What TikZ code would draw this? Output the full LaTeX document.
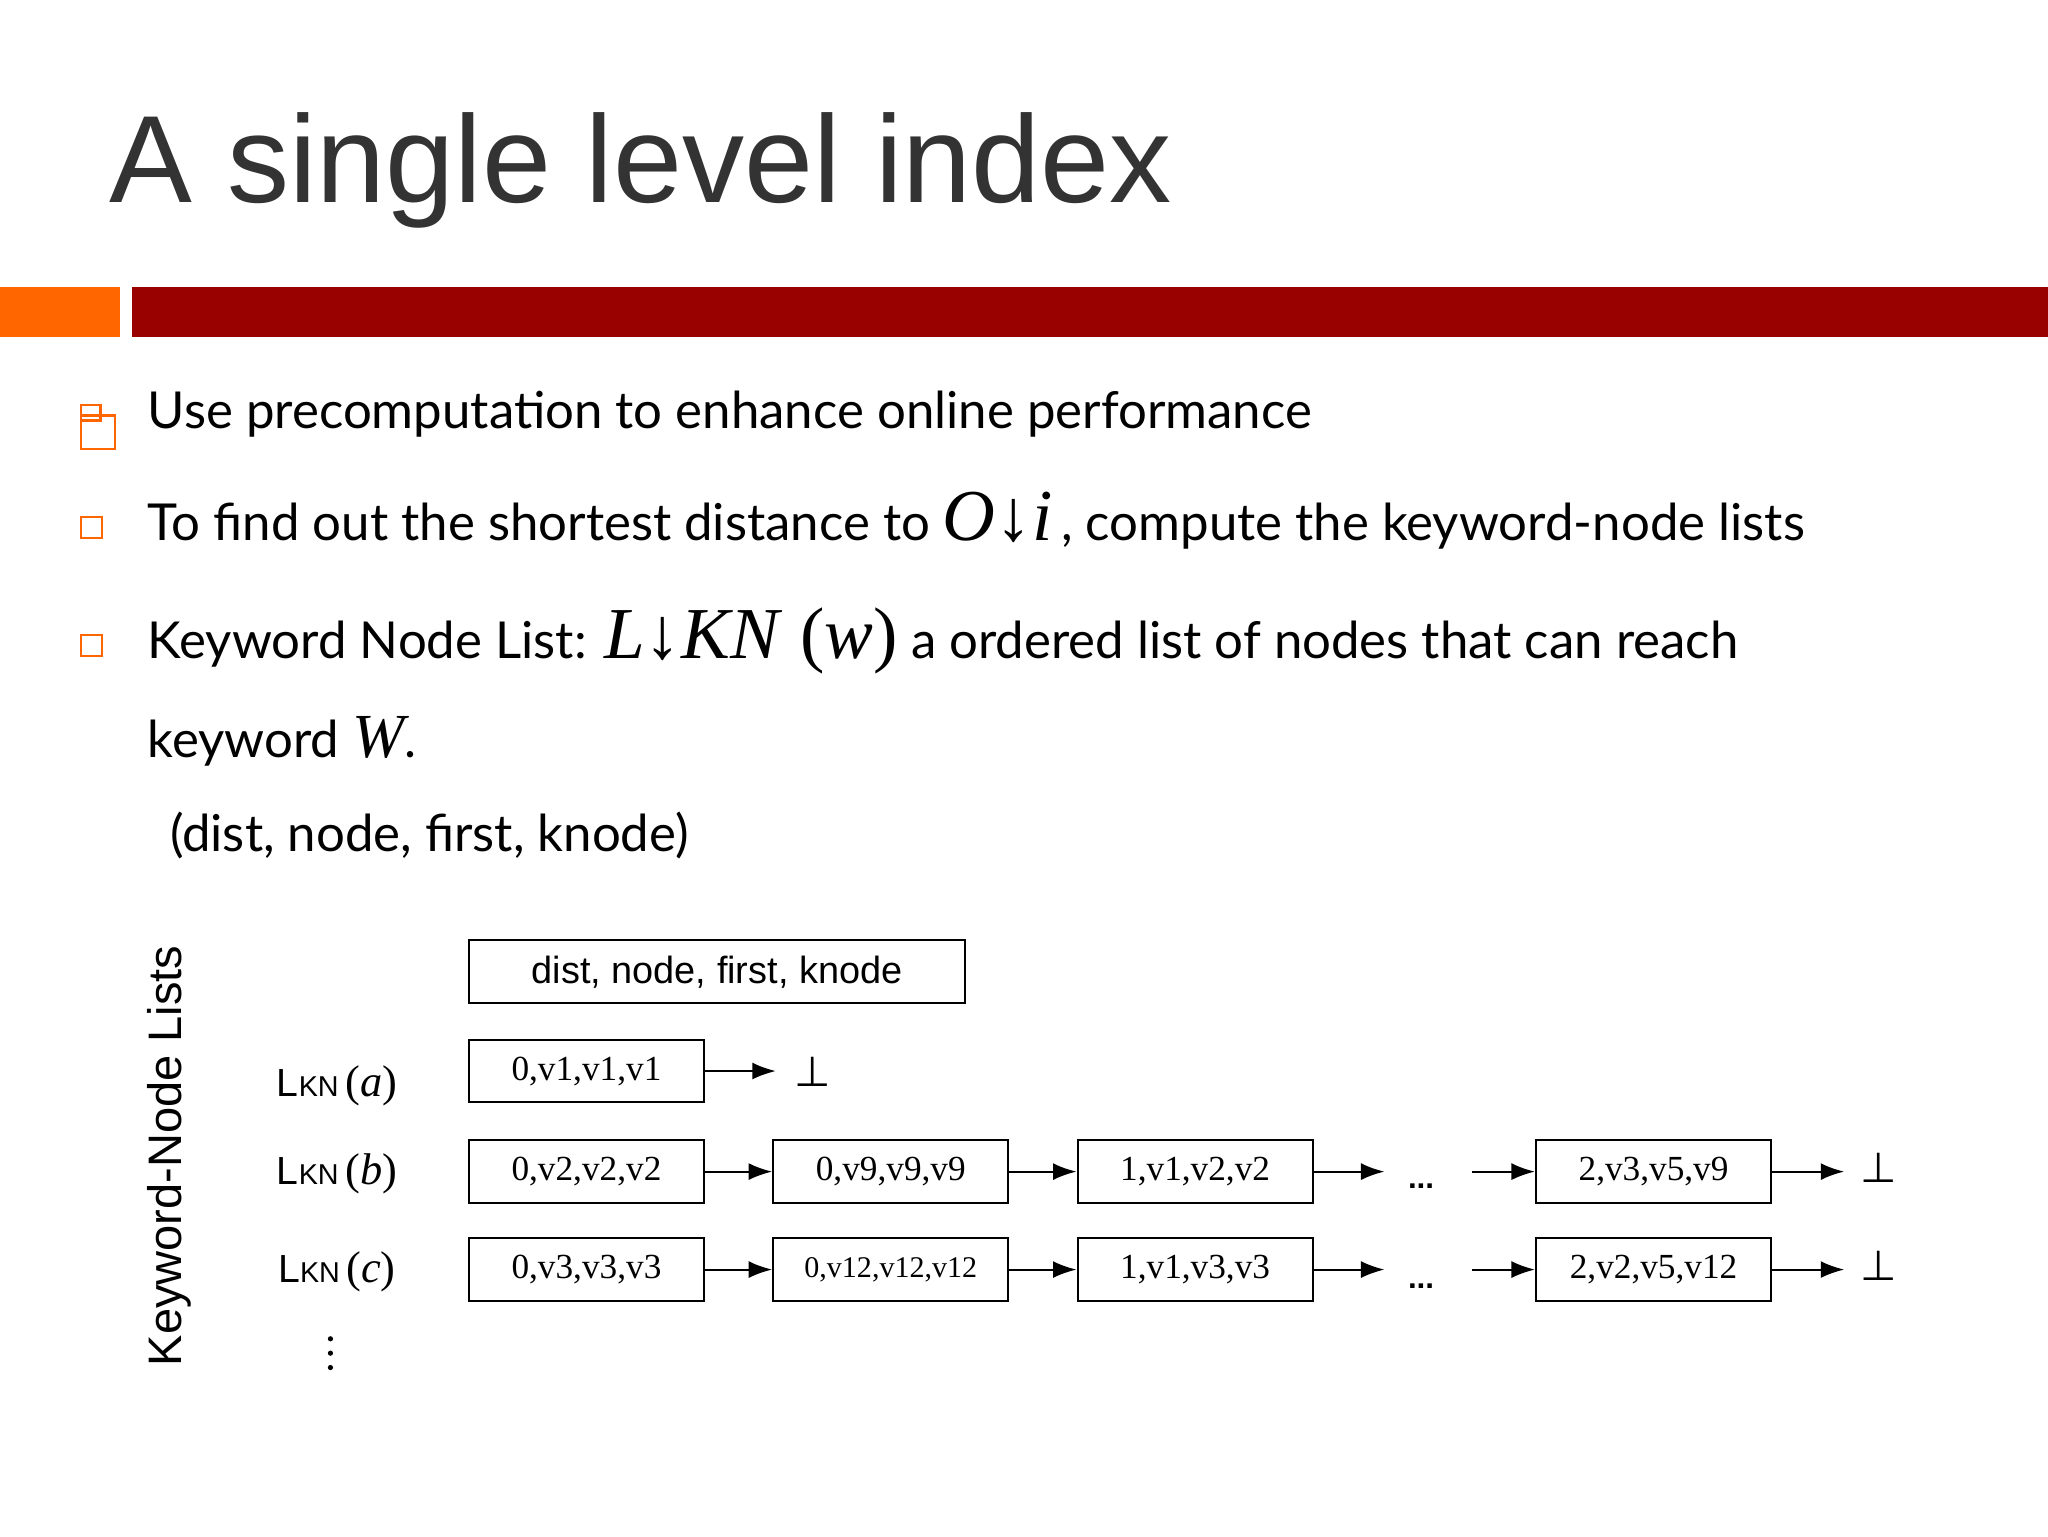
\documentclass[tikz,border=0pt]{standalone}
\usepackage{fontspec}
\setmainfont{Liberation Sans}
\newfontfamily\bul{Lato}
\newfontfamily\ser{Liberation Serif}
\newfontfamily\dvs{DejaVu Sans}
\usetikzlibrary{arrows.meta}
\definecolor{dred}{HTML}{990000}
\definecolor{org}{HTML}{FF6600}
\definecolor{ttl}{HTML}{333333}
\tikzset{
  bx/.style={draw,line width=1.6pt,minimum width=180pt,minimum height=48pt,inner sep=0pt,font=\ser\fontsize{27}{30}\selectfont},
  ar/.style={-{Latex[length=18pt,width=13pt]},line width=1.6pt},
  btxt/.style={anchor=base west,inner sep=0pt,font=\bul\fontsize{39}{42}\selectfont},
  sq/.style={draw=org,line width=1.8pt},
  lab/.style={font=\fontsize{30}{34}\selectfont,inner sep=0pt},
  bot/.style={font=\dvs\fontsize{32}{34}\selectfont,inner sep=0pt},
  dot/.style={fill,circle,inner sep=0pt,minimum size=4pt}
}
\newcommand{\lkn}[1]{L{\fontsize{22}{24}\selectfont KN}\,{\ser\fontsize{34}{36}\selectfont(\textit{#1})}}
\begin{document}
\begin{tikzpicture}[x=1pt,y=-1pt]
\useasboundingbox (0,0) rectangle (1568,1176);
\fill[white] (0,0) rectangle (1568,1176);
\node[anchor=base west,inner sep=0pt,text=ttl,font=\fontsize{95}{105}\selectfont] (title) at (84,155) {A single level index};
\fill[org] (0,220) rectangle (92,258);
\fill[dred] (101,220) rectangle (1568,258);
% bullets
\draw[sq] (62,310) rectangle (77,322);
\draw[sq] (62,318) rectangle (88,344);
\draw[sq] (62,396) rectangle (78,412);
\draw[sq] (62,486) rectangle (78,502);
\node[btxt] (b1) at (113,328) {Use precomputation to enhance online performance};
\node[btxt] (b2) at (113,414) {To find out the shortest distance to {\ser\itshape\fontsize{56}{58}\selectfont O{\upshape↓}i}\,, compute the keyword-node lists};
\node[btxt] (b3) at (113,504) {Keyword Node List: {\ser\itshape\fontsize{56}{58}\selectfont L{\upshape↓}KN\/ {\upshape(}w{\upshape)}} a ordered list of nodes that can reach};
\node[btxt] (b4) at (113,580) {keyword {\ser\itshape\fontsize{48}{50}\selectfont W}.};
\node[btxt] (b5) at (130,652) {(dist, node, first, knode)};
% diagram
\node[rotate=90,font=\fontsize{36}{38}\selectfont,inner sep=0pt] (vl) at (130,885) {Keyword-Node Lists};
\node[draw,line width=1.6pt,minimum width=380pt,minimum height=48pt,inner sep=0pt,font=\fontsize{29}{30}\selectfont] (hdr) at (549,744) {dist, node, first, knode};
\node[lab] (la) at (258,831) {\lkn{a}};
\node[lab] (lb) at (258,899) {\lkn{b}};
\node[lab] (lc) at (258,974) {\lkn{c}};
\node[dot] (v1) at (253,1025) {};
\node[dot] (v2) at (253,1036) {};
\node[dot] (v3) at (253,1047) {};
% row a
\node[bx] (a1) at (449,820) {0,v1,v1,v1};
\node[bot] (abot) at (622,821) {⊥};
\coordinate (ae) at (594,820);
\draw[ar] (a1) -- (ae);
% row b
\node[bx] (b1n) at (449,897) {0,v2,v2,v2};
\node[bx] (b2n) at (682,897) {0,v9,v9,v9};
\node[bx] (b3n) at (915,897) {1,v1,v2,v2};
\node[bx] (b4n) at (1266,897) {2,v3,v5,v9};
\coordinate (bd1) at (1060,897);
\coordinate (bd2) at (1127,897);
\node[font=\bfseries\fontsize{24}{24}\selectfont] (bdots) at (1088,908) {...};
\node[bot] (bbot) at (1438,894) {⊥};
\coordinate (be) at (1412,897);
\draw[ar] (b1n) -- (b2n);
\draw[ar] (b2n) -- (b3n);
\draw[ar] (b3n) -- (bd1);
\draw[ar] (bd2) -- (b4n);
\draw[ar] (b4n) -- (be);
% row c
\node[bx] (c1n) at (449,972) {0,v3,v3,v3};
\node[bx,font=\ser\fontsize{23}{26}\selectfont] (c2n) at (682,972) {0,v12,v12,v12};
\node[bx] (c3n) at (915,972) {1,v1,v3,v3};
\node[bx] (c4n) at (1266,972) {2,v2,v5,v12};
\coordinate (cd1) at (1060,972);
\coordinate (cd2) at (1127,972);
\node[font=\bfseries\fontsize{24}{24}\selectfont] (cdots) at (1088,985) {...};
\node[bot] (cbot) at (1438,969) {⊥};
\coordinate (ce) at (1412,972);
\draw[ar] (c1n) -- (c2n);
\draw[ar] (c2n) -- (c3n);
\draw[ar] (c3n) -- (cd1);
\draw[ar] (cd2) -- (c4n);
\draw[ar] (c4n) -- (ce);
\end{tikzpicture}
\end{document}
